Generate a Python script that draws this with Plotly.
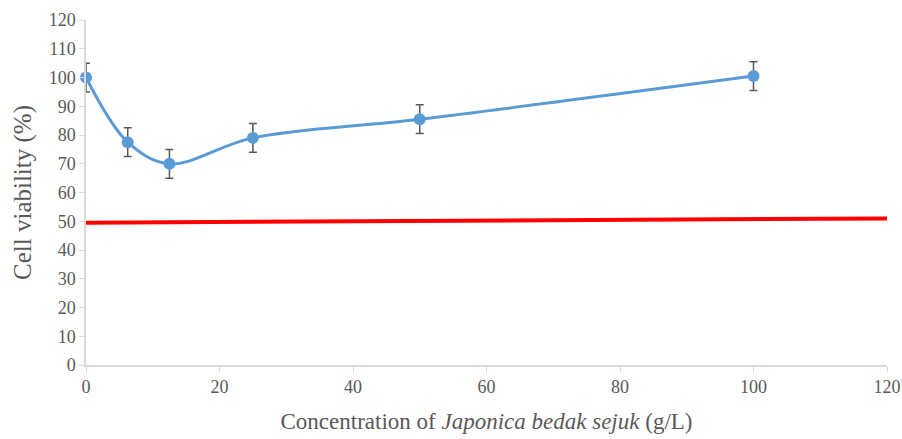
import plotly.graph_objects as go

conc = [0, 6.25, 12.5, 25, 50, 100]
viability = [100, 77.5, 70, 79, 85.5, 100.5]
err = [5, 5, 5, 5, 5, 5]
ref_x = [0, 120]
ref_y = [49.5, 51]

fig = go.Figure()
fig.add_trace(go.Scatter(
    x=ref_x, y=ref_y, mode="lines",
    line=dict(color="#FF0000", width=4), showlegend=False, hoverinfo="skip"))
fig.add_trace(go.Scatter(
    x=conc, y=viability, mode="lines+markers",
    line=dict(color="#5B9BD5", width=3, shape="spline", smoothing=1.0),
    marker=dict(color="#5B9BD5", size=12),
    error_y=dict(type="data", array=err, visible=True, color="#595959", thickness=1.5, width=4),
    showlegend=False, cliponaxis=False))

tickfont = dict(family="Liberation Serif", size=18, color="#595959")
fig.update_layout(
    width=902, height=439,
    margin=dict(l=86, r=15, t=20, b=74),
    paper_bgcolor="white", plot_bgcolor="white",
    xaxis=dict(range=[0, 120], tickvals=[0, 20, 40, 60, 80, 100, 120], showgrid=False, zeroline=False,
               showline=True, linecolor="#D9D9D9", linewidth=1.5, ticks="outside", tickcolor="#D9D9D9",
               ticklen=5, tickfont=tickfont, automargin=False,
               title=dict(text="Concentration of <i>Japonica bedak sejuk</i> (g/L)",
                          font=dict(family="Liberation Serif", size=23, color="#595959"), standoff=17)),
    yaxis=dict(range=[0, 120], tickvals=list(range(0, 121, 10)), showgrid=False, zeroline=False,
               showline=True, linecolor="#D9D9D9", linewidth=1.5, ticks="outside", tickcolor="#D9D9D9",
               ticklen=5, tickfont=tickfont, automargin=False,
               title=dict(text="Cell viability (%)",
                          font=dict(family="Liberation Serif", size=25, color="#595959"), standoff=10)),
)
fig.write_html("out.html", config={"displayModeBar": False})

with open("out.html", "r", encoding="utf-8") as f:
    html = f.read()
html = html.replace("<head>", "<head><style>html,body{margin:0;padding:0;overflow:hidden;}</style>", 1)
with open("out.html", "w", encoding="utf-8") as f:
    f.write(html)
